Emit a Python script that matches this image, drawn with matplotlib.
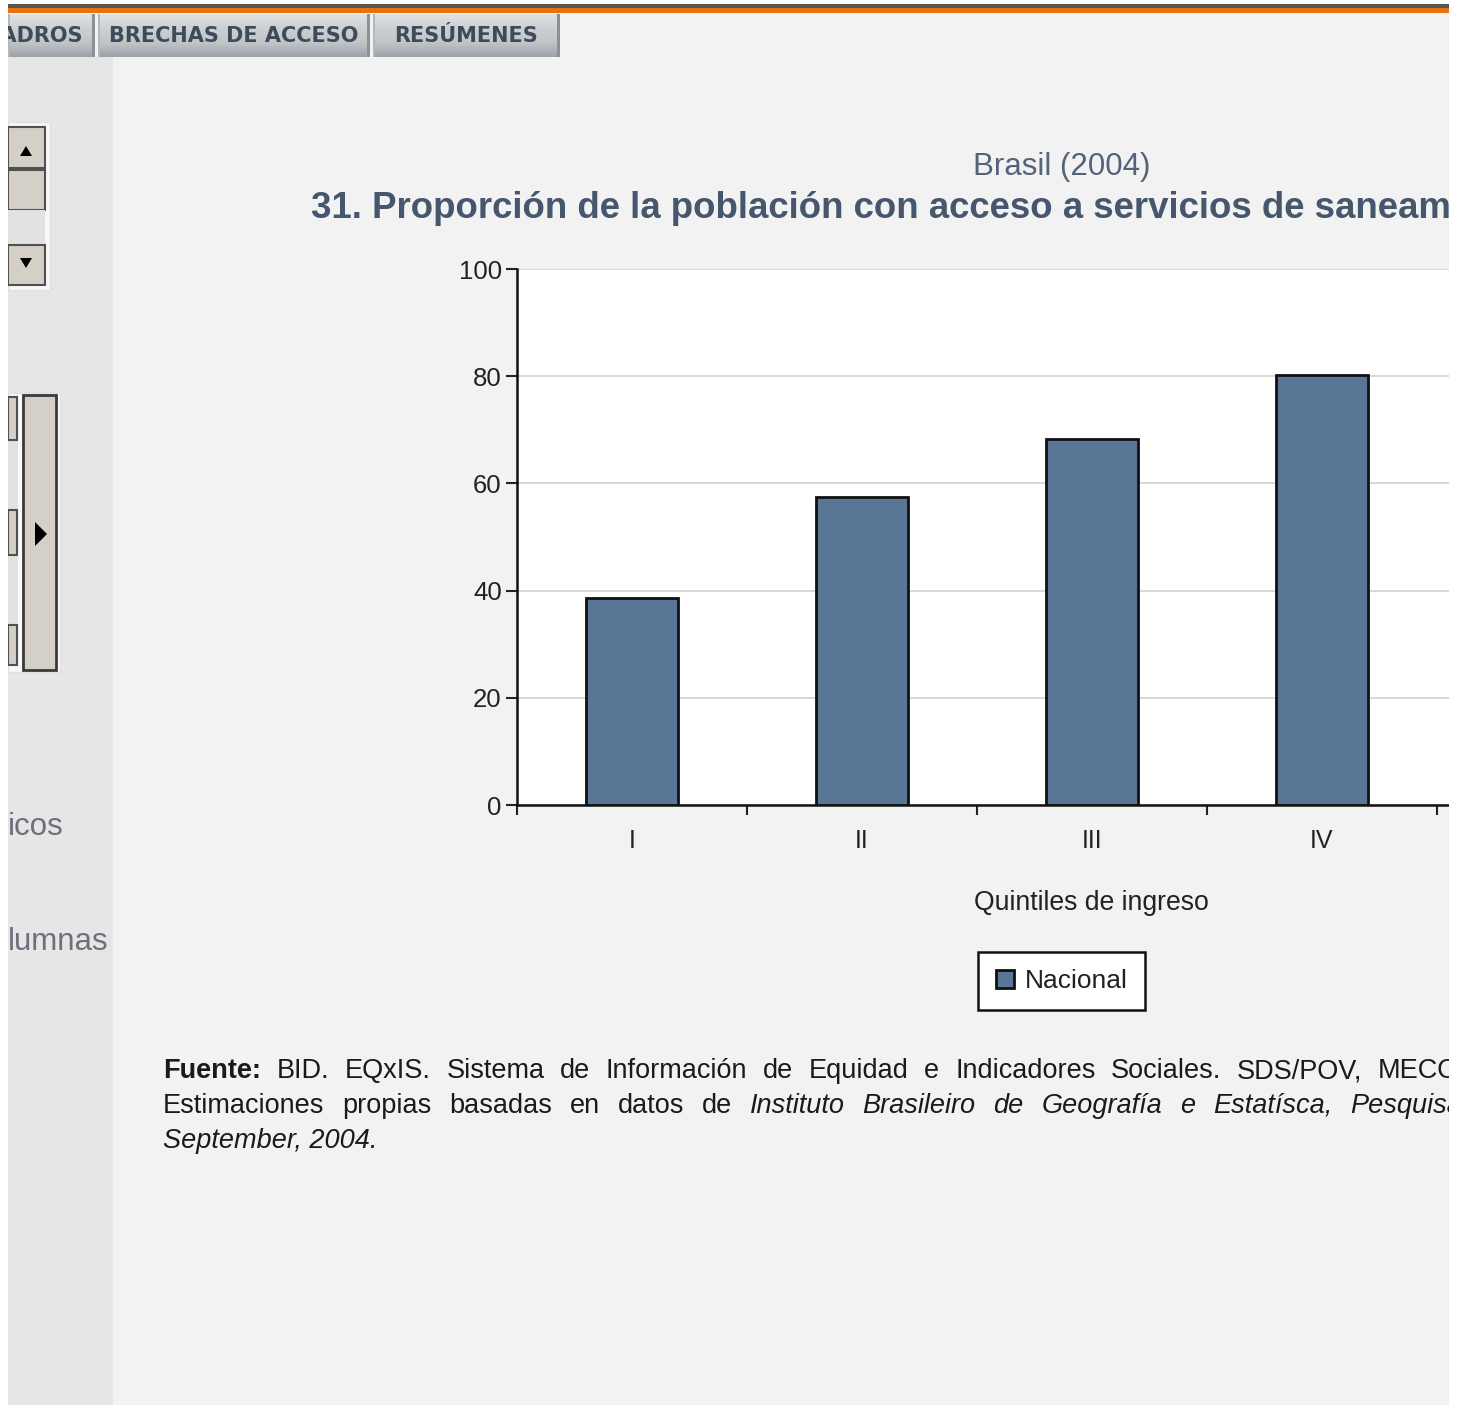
import numpy as np
import matplotlib.pyplot as plt
from matplotlib.patches import Rectangle, Polygon
from matplotlib.colors import LinearSegmentedColormap

# data
quintiles = ['I', 'II', 'III', 'IV']
nacional = [38.6, 57.5, 68.3, 80.2]
yticks = [0, 20, 40, 60, 80, 100]
series_name = 'Nacional'

W, H = 1467, 1405
plt.rcParams['font.family'] = ['Liberation Sans', 'DejaVu Sans']
fig = plt.figure(figsize=(W / 100, H / 100), dpi=100)
fig.patch.set_facecolor('white')

# page background, drawn in pixel coords
bg = fig.add_axes([0, 0, 1, 1])
bg.axis('off')
bg.set_xlim(0, W)
bg.set_ylim(H, 0)


def box(x0, y0, x1, y1, **kw):
    bg.add_patch(Rectangle((x0, y0), x1 - x0, y1 - y0, **kw))


box(8, 12, 1449, H, fc='#f2f2f2', ec='none')
box(8, 57, 113, H, fc='#e6e6e6', ec='none')
box(8, 4, 1449, 8, fc='#555555', ec='none')
box(8, 8, 1449, 13, fc='#e8730e', ec='none')

# tabs
tabcmap = LinearSegmentedColormap.from_list('tab', ['#e0e1e2', '#cdd0d2', '#c2c5c8', '#9da2a7'])
grad = np.linspace(0, 1, 60).reshape(-1, 1)
tabs = [(8, 95, 'CUADROS', 82), (98, 370, 'BRECHAS DE ACCESO', None), (373, 560, 'RESÚMENES', None)]
for x0, x1, lab, xr in tabs:
    bg.imshow(grad, extent=(x0, x1, 57, 14), cmap=tabcmap, aspect='auto', origin='upper', zorder=1)
    box(x1 - 3, 14, x1, 57, fc='#8d9196', ec='none', zorder=2)
    box(x0, 14, x0 + 2, 57, fc='#b5b8bb', ec='none', zorder=2)
    if xr is None:
        bg.text((x0 + x1) / 2, 36, lab, ha='center', va='center', fontsize=15,
                fontweight='bold', color='#3d4b5b', family='DejaVu Sans', zorder=3)
    else:
        bg.text(xr, 36, lab, ha='right', va='center', fontsize=15,
                fontweight='bold', color='#3d4b5b', family='DejaVu Sans', zorder=3)

# left panel widgets
btn = dict(fc='#d4d0c8', ec='#505050', lw=1.5)
box(8, 122, 50, 290, fc='#f8f8f8', ec='#e0e0e0')
box(8, 127, 45, 168, **btn)
box(8, 170, 45, 210, **btn)
box(8, 210, 45, 245, fc='#e2e2e2', ec='none')
box(8, 245, 45, 285, **btn)
bg.add_patch(Polygon([(20, 156), (32, 156), (26, 146)], fc='black'))
bg.add_patch(Polygon([(20, 258), (32, 258), (26, 268)], fc='black'))

box(8, 393, 60, 672, fc='#f8f8f8', ec='#e0e0e0')
box(8, 440, 18, 625, fc='#e2e2e2', ec='none')
box(8, 397, 17, 440, **btn)
box(8, 510, 17, 555, **btn)
box(8, 625, 17, 665, **btn)
box(23, 395, 56, 670, fc='#d4d0c8', ec='#3a3a3a', lw=2)
bg.add_patch(Polygon([(35, 522), (35, 546), (47, 534)], fc='black'))

bg.text(8, 827, 'icos', ha='left', va='center', fontsize=22.5, color='#6f6f7c')
bg.text(8, 942, 'lumnas', ha='left', va='center', fontsize=22.5, color='#6f6f7c')

# titles
bg.text(1062, 167, 'Brasil (2004)', ha='center', va='center', fontsize=22.5, color='#53637a')
bg.text(311, 208, '31. Proporción de la población con acceso a servicios de saneamiento',
        ha='left', va='center', fontsize=26.4, fontweight='bold', color='#46566c')
bg.text(1091, 903, 'Quintiles de ingreso', ha='center', va='center', fontsize=19.2, color='#222222')

# footer, justified: first word at 163, last visible word starts where the reference shows it
line1 = [('Fuente:', 'bold'), ('BID.', ''), ('EQxIS.', ''), ('Sistema', ''), ('de', ''),
         ('Información', ''), ('de', ''), ('Equidad', ''), ('e', ''), ('Indicadores', ''),
         ('Sociales.', ''), ('SDS/POV,', ''), ('MECOVI', '')]
line2 = [('Estimaciones', ''), ('propias', ''), ('basadas', ''), ('en', ''), ('datos', ''),
         ('de', ''), ('Instituto', 'italic'), ('Brasileiro', 'italic'), ('de', 'italic'),
         ('Geografía', 'italic'), ('e', 'italic'), ('Estatísca,', 'italic'), ('Pesquisa', 'italic')]
line3 = [('September, 2004.', 'italic')]
renderer = fig.canvas.get_renderer()
for yy, words, last_x in [(1071, line1, 1378), (1106, line2, 1350), (1141, line3, 163)]:
    texts = []
    for w, st in words:
        texts.append(bg.text(163, yy, w, ha='left', va='center', fontsize=19.5, color='#1a1a1a',
                             fontweight='bold' if st == 'bold' else 'normal',
                             fontstyle='italic' if st == 'italic' else 'normal'))
    if len(texts) > 1:
        widths = [t.get_window_extent(renderer).width for t in texts[:-1]]
        gap = (last_x - 163 - sum(widths)) / (len(texts) - 1)
        xx = 163
        for t, wd in zip(texts[:-1], widths):
            t.set_x(xx)
            xx += wd + gap
        texts[-1].set_x(last_x)

# the chart
ax = fig.add_axes([517 / W, 1 - 805 / H, 1150 / W, 536 / H], zorder=5)
x = np.arange(len(quintiles))
bars = ax.bar(x, nacional, width=0.4, color='#5a7696', edgecolor='#111111', lw=2,
              label=series_name, zorder=3)
ax.set_xlim(-0.5, 4.5)
ax.set_ylim(0, 100)
ax.set_facecolor('white')
ax.set_yticks(yticks)
ax.yaxis.grid(True, color='#d6d6d6', lw=1.3, zorder=0)
ax.set_xticks(np.arange(-0.5, 5, 1))
ax.set_xticklabels([])
ax.set_xticks(x, minor=True)
ax.set_xticklabels(quintiles, minor=True)
ax.tick_params(axis='x', which='minor', length=0, pad=17, labelsize=18, labelcolor='#222222')
ax.tick_params(axis='x', which='major', length=7, width=1.5, color='#222222')
ax.tick_params(axis='y', length=8, width=1.5, color='#222222', labelsize=18.5,
               labelcolor='#222222', pad=3)
for s in ['top', 'right']:
    ax.spines[s].set_visible(False)
for s in ['left', 'bottom']:
    ax.spines[s].set_linewidth(1.8)
    ax.spines[s].set_color('#111111')

leg = ax.legend(loc='center', bbox_to_anchor=(1061.5 / W, 1 - 981 / H),
                bbox_transform=fig.transFigure, fontsize=19, frameon=True, fancybox=False,
                handlelength=0.7, handleheight=0.7, handletextpad=0.4, borderpad=0.65)
leg.get_frame().set_edgecolor('#111111')
leg.get_frame().set_linewidth(1.8)
leg.get_frame().set_alpha(1)
for t in leg.get_texts():
    t.set_color('#222222')

# screenshot edges
ov = fig.add_axes([0, 0, 1, 1], zorder=20)
ov.axis('off')
ov.set_xlim(0, W)
ov.set_ylim(H, 0)
ov.add_patch(Rectangle((0, 0), 8, H, fc='white', ec='none'))
ov.add_patch(Rectangle((1449, 0), W - 1449, H, fc='white', ec='none'))
ov.add_patch(Rectangle((0, 0), W, 4, fc='white', ec='none'))

fig.savefig('out.png', dpi=100)
